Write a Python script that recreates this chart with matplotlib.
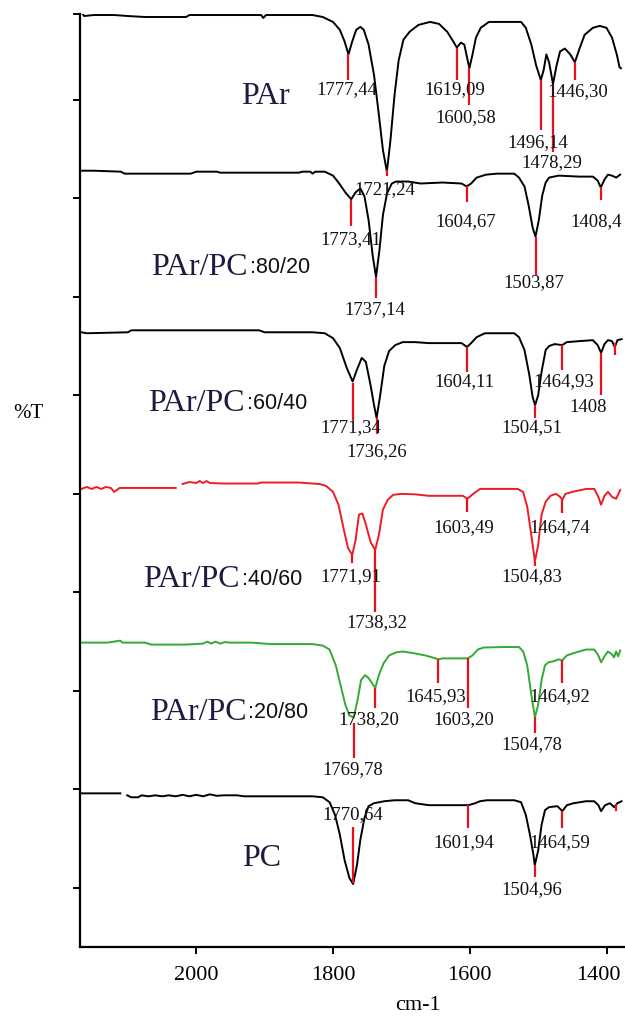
import numpy as np
import matplotlib
matplotlib.use("Agg")
import matplotlib.pyplot as plt
import matplotlib.transforms as mtransforms
from matplotlib import font_manager

# ---------------- data ----------------
# wavenumbers (cm-1) and offset %T values
nan = np.nan

par_wn = [2168, 2164, 2150, 2120, 2100, 2075, 2015, 2010, 1905, 1902, 1898, 1830, 1815, 1800, 1790, 1783,
          1777.4, 1772, 1766, 1760, 1755, 1748, 1740, 1733, 1727, 1721.2, 1716, 1710, 1704, 1697, 1688, 1675,
          1658, 1645, 1633, 1624, 1619, 1613, 1608, 1604, 1600.6, 1596, 1591, 1584, 1572, 1545, 1525, 1518,
          1510, 1503, 1496.1, 1492, 1488, 1484, 1478.3, 1473, 1468, 1461, 1453, 1446.3, 1440, 1432, 1420,
          1410, 1400, 1392, 1385, 1381, 1379]
par_t = [94.9, 94.5, 94.6, 94.6, 94.5, 94.4, 94.4, 94.6, 94.6, 94.3, 94.6, 94.6, 94.4, 93.9, 93.1, 91.9,
         90.6, 91.9, 93.1, 93.4, 93.1, 91.6, 88.5, 84.5, 80.9, 78.7, 81.9, 86.5, 90.0, 92.1, 92.9, 93.6,
         93.9, 93.7, 92.9, 91.9, 91.3, 91.8, 91.6, 90.3, 89.2, 90.6, 92.3, 93.3, 93.9, 93.9, 93.9, 93.3,
         91.6, 89.5, 88.0, 89.0, 90.6, 89.8, 87.6, 89.5, 90.9, 91.2, 90.6, 89.8, 91.1, 92.6, 93.3,
         93.5, 93.3, 92.3, 90.6, 89.3, 89.2]

b8020_wn = [2168, 2150, 2110, 2105, 2072, 2008, 2000, 1970, 1965, 1926, 1850, 1845, 1833, 1830, 1826, 1812,
            1800, 1792, 1782, 1773.4, 1767, 1760, 1754, 1748, 1742, 1737.1, 1732, 1727, 1721, 1714, 1708,
            1690, 1672, 1640, 1612, 1604.7, 1598, 1590, 1576, 1560, 1535, 1528, 1520, 1514, 1508, 1503.9,
            1499, 1494, 1489, 1484, 1470, 1440, 1420, 1413, 1408.4, 1403, 1398, 1392, 1386, 1380]
b8020_t = [78.8, 78.8, 78.7, 78.5, 78.5, 78.5, 78.7, 78.7, 78.6, 78.6, 78.6, 78.7, 78.7, 78.5, 78.7, 78.7,
           78.3, 77.6, 76.6, 75.9, 76.6, 77.0, 76.2, 73.8, 70.2, 68.0, 70.8, 74.3, 76.5, 77.5, 77.7,
           77.7, 77.5, 77.6, 77.5, 77.2, 77.5, 78.1, 78.4, 78.5, 78.5, 78.1, 77.2, 75.3, 73.0, 72.1,
           73.8, 76.3, 77.6, 78.1, 78.3, 78.2, 78.2, 77.8, 77.1, 77.9, 78.4, 78.3, 78.1, 78.4]

b6040_wn = [2168, 2160, 2100, 2095, 2066, 1908, 1900, 1830, 1812, 1800, 1790, 1780, 1771.3, 1765, 1758,
            1752, 1745, 1740, 1736.3, 1731, 1725, 1718, 1709, 1698, 1680, 1660, 1630, 1612, 1604.1, 1598,
            1590, 1578, 1555, 1535, 1528, 1520, 1513, 1508, 1504.5, 1500, 1495, 1489, 1484, 1476, 1464.9,
            1458, 1440, 1420, 1413, 1408, 1403, 1398, 1392, 1388, 1384, 1378]
b6040_t = [62.4, 62.3, 62.4, 62.6, 62.6, 62.6, 62.4, 62.4, 62.3, 61.8, 60.8, 58.8, 57.4, 58.6, 59.8,
           59.4, 57.0, 55.0, 53.7, 56.0, 59.0, 60.5, 61.1, 61.4, 61.4, 61.3, 61.3, 61.3, 60.9, 61.3,
           61.9, 62.3, 62.3, 62.3, 61.9, 60.6, 58.1, 55.8, 55.0, 56.0, 58.4, 60.6, 61.0, 61.2, 61.1,
           61.4, 61.5, 61.6, 61.1, 60.3, 61.2, 61.6, 61.5, 60.9, 61.6, 61.7]

b4060_wn = [2168, 2160, 2153, 2146, 2139, 2132, 2125, 2120, 2112, 2070, 2033, 2030, nan, 2020, 2010, 2000,
            1995, 1990, 1985, 1980, 1960, 1910, 1905, 1850, 1820, 1810, 1800, 1792, 1784, 1778, 1771.9,
            1767, 1762, 1757, 1752, 1745, 1738.3, 1733, 1727, 1720, 1712, 1700, 1680, 1660, 1625, 1610,
            1603.5, 1595, 1585, 1570, 1530, 1522, 1516, 1510, 1506, 1504.8, 1500, 1495, 1489, 1482, 1474,
            1468, 1464.7, 1460, 1450, 1430, 1418, 1412, 1408, 1403, 1398, 1392, 1386, 1380]
b4060_t = [46.5, 46.7, 46.5, 46.7, 46.5, 46.7, 46.6, 46.2, 46.6, 46.6, 46.6, 46.6, nan, 47.0, 47.2, 47.1,
           47.3, 47.1, 47.3, 47.1, 47.05, 47.05, 47.15, 47.15, 47.0, 46.8, 46.2, 44.9, 42.3, 40.5, 39.8,
           41.3, 43.9, 44.0, 42.9, 41.1, 40.3, 41.8, 44.4, 45.4, 45.9, 46.0, 45.95, 45.8, 45.8, 45.8,
           45.5, 46.0, 46.5, 46.5, 46.5, 46.2, 44.7, 41.8, 39.8, 39.1, 40.8, 43.9, 45.2, 45.8, 46.0,
           45.7, 45.4, 46.0, 46.2, 46.5, 46.5, 45.7, 44.9, 45.8, 46.2, 45.7, 45.5, 46.4]

b2080_wn = [2168, 2130, 2111, 2108, 2075, 2066, 2016, 1990, 1984, 1978, 1972, 1965, 1958, 1950, 1920, 1891,
            1830, 1815, 1805, 1796, 1789, 1782, 1776, 1769.8, 1764, 1759, 1753, 1748, 1743, 1738.2, 1733,
            1726, 1718, 1708, 1698, 1680, 1665, 1650, 1645.9, 1640, 1625, 1610, 1603.2, 1596, 1588, 1580,
            1550, 1528, 1522, 1516, 1510, 1506, 1504.8, 1500, 1495, 1490, 1485, 1478, 1470, 1464.9, 1458,
            1445, 1430, 1418, 1412, 1408, 1403, 1398, 1392, 1389, 1386, 1383, 1380]
b2080_t = [30.9, 30.9, 31.1, 30.9, 30.9, 30.7, 30.7, 30.8, 31.0, 30.8, 31.0, 30.8, 30.95, 30.9, 30.9, 30.75,
           30.75, 30.6, 30.2, 28.6, 26.6, 24.6, 23.5, 23.3, 25.1, 27.1, 27.6, 27.3, 26.8, 26.3, 27.6,
           28.8, 29.6, 29.9, 30.0, 29.8, 29.6, 29.3, 29.2, 29.3, 29.3, 29.3, 29.3, 29.6, 30.2, 30.4,
           30.45, 30.45, 30.0, 28.6, 25.6, 23.9, 23.3, 24.6, 27.1, 28.6, 28.9, 29.0, 29.2, 29.1, 29.6,
           29.9, 30.2, 30.2, 29.6, 28.9, 29.5, 30.0, 29.7, 29.4, 30.0, 29.5, 30.1]

pc_wn = [2168, 2111, nan, 2101, 2095, 2085, 2080, 2070, 2060, 2050, 2040, 2030, 2020, 2010, 2000, 1990,
         1980, 1970, 1960, 1940, 1930, 1900, 1880, 1830, 1815, 1805, 1797, 1790, 1783, 1776, 1770.6,
         1765, 1760, 1754, 1748, 1740, 1725, 1710, 1690, 1680, 1660, 1620, 1601.9, 1592, 1585, 1575,
         1535, 1525, 1518, 1512, 1507, 1505, 1500, 1495, 1490, 1484, 1472, 1464.6, 1458, 1448, 1430,
         1418, 1412, 1408, 1402, 1395, 1389, 1384, 1378]
pc_t = [15.6, 15.6, nan, 15.4, 15.2, 15.2, 15.4, 15.3, 15.4, 15.3, 15.4, 15.3, 15.45, 15.3, 15.45, 15.3,
        15.5, 15.35, 15.4, 15.4, 15.3, 15.3, 15.3, 15.3, 15.2, 14.7, 13.4, 11.4, 8.8, 7.0, 6.4,
        8.3, 10.9, 13.1, 14.3, 14.6, 14.8, 14.9, 14.9, 14.6, 14.4, 14.4, 14.4, 14.6, 14.8, 14.9,
        14.9, 14.7, 13.4, 11.4, 9.4, 8.3, 9.8, 12.4, 13.9, 14.2, 14.3, 13.8, 14.4, 14.6, 14.8,
        14.8, 14.4, 13.8, 14.4, 14.6, 14.2, 14.6, 14.8]

# sample names
names_main = ["PAr", "PAr/PC", "PAr/PC", "PAr/PC", "PAr/PC", "PC"]
names_ratio = ["", ":80/20", ":60/40", ":40/60", ":20/80", ""]
line_colors = ["black", "black", "black", "#ee1c24", "#33aa33", "black"]

# peak markers: position, marker line span (%T), label text, label position
par_pk = [1777.44, 1619.09, 1600.58, 1496.14, 1478.29, 1446.30, 1721.24]
par_lo = [88.0, 88.0, 85.5, 82.9, 80.7, 88.0, 78.3]
par_hi = [90.6, 91.3, 89.2, 88.0, 87.6, 89.8, 78.9]
par_lab = ["1777,44", "1619,09", "1600,58", "1496,14", "1478,29", "1446,30", "1721,24"]
par_lx = [1779.5, 1621.6, 1605.5, 1500, 1480, 1442, 1724]
par_ly = [87.0, 87.0, 84.2, 81.7, 79.6, 86.8, 76.9]

b8020_pk = [1604.67, 1408.4, 1773.41, 1737.14, 1503.87]
b8020_lo = [75.6, 75.8, 73.2, 65.9, 68.2]
b8020_hi = [77.2, 77.1, 75.8, 68.0, 72.1]
b8020_lab = ["1604,67", "1408,4", "1773,41", "1737,14", "1503,87"]
b8020_lx = [1605.5, 1415, 1773.7, 1738.6, 1506]
b8020_ly = [73.6, 73.6, 71.8, 64.7, 67.4]

b6040_pk = [1604.11, 1464.93, 1408, 1771.34, 1736.26, 1504.51, 1388]
b6040_lo = [58.4, 58.6, 56.0, 53.5, 52.1, 53.7, 60.1]
b6040_hi = [60.9, 61.1, 60.3, 57.3, 53.7, 55.0, 61.3]
b6040_lab = ["1604,11", "1464,93", "1408", "1771,34", "1736,26", "1504,51", ""]
b6040_lx = [1608.5, 1462, 1427, 1773.7, 1735.7, 1509, 1388]
b6040_ly = [57.4, 57.4, 54.8, 52.7, 50.3, 52.7, 60.0]

b4060_pk = [1603.49, 1464.74, 1771.91, 1738.32, 1504.83]
b4060_lo = [44.2, 44.1, 39.0, 34.0, 38.7]
b4060_hi = [45.6, 45.4, 39.8, 40.3, 39.1]
b4060_lab = ["1603,49", "1464,74", "1771,91", "1738,32", "1504,83"]
b4060_lx = [1608.5, 1468, 1773.7, 1735.7, 1509]
b4060_ly = [42.6, 42.6, 37.6, 32.9, 37.6]

b2080_pk = [1645.93, 1603.20, 1464.92, 1738.20, 1769.78, 1504.78]
b2080_lo = [26.8, 24.3, 26.8, 24.3, 19.2, 21.7]
b2080_hi = [29.2, 29.3, 29.1, 26.3, 22.7, 23.3]
b2080_lab = ["1645,93", "1603,20", "1464,92", "1738,20", "1769,78", "1504,78"]
b2080_lx = [1649.4, 1608.5, 1468, 1747, 1771, 1509]
b2080_ly = [25.4, 23.1, 25.4, 23.1, 18.0, 20.5]

pc_pk = [1770.64, 1601.94, 1464.59, 1504.96, 1386]
pc_lo = [6.5, 12.1, 12.1, 7.1, 13.8]
pc_hi = [12.2, 14.4, 13.8, 8.3, 14.5]
pc_lab = ["1770,64", "1601,94", "1464,59", "1504,96", ""]
pc_lx = [1771, 1608.5, 1468, 1509, 1386]
pc_ly = [13.4, 10.6, 10.6, 5.8, 13.0]

# name label anchor (left edge / centre) in data units
name_x = [1899, 2066, 2070, 2078, 2068, 1905]
name_y = [86.3, 69.0, 55.2, 37.3, 23.8, 9.0]
name_ha = ["center", "left", "left", "left", "left", "center"]

x_ticks = [2000, 1800, 1600, 1400]
y_ticks = [6, 16, 26, 36, 46, 56, 66, 76, 86, 94.7]

# ---------------- drawing ----------------
available = {f.name for f in font_manager.fontManager.ttflist}
if "Liberation Sans Narrow" in available:
    ratio_family, ratio_size = ["Liberation Sans Narrow", "DejaVu Sans"], 18.5
else:
    ratio_family, ratio_size = ["Liberation Sans", "DejaVu Sans"], 15.5

plt.rcParams["font.family"] = ["Liberation Serif", "DejaVu Serif"]

fig = plt.figure(figsize=(6.25, 10.18), dpi=100)
ax = fig.add_axes([0.128, 0.0697, 0.872, 0.9165])

spectra = [(par_wn, par_t), (b8020_wn, b8020_t), (b6040_wn, b6040_t),
           (b4060_wn, b4060_t), (b2080_wn, b2080_t), (pc_wn, pc_t)]
peaks = [(par_pk, par_lo, par_hi, par_lab, par_lx, par_ly),
         (b8020_pk, b8020_lo, b8020_hi, b8020_lab, b8020_lx, b8020_ly),
         (b6040_pk, b6040_lo, b6040_hi, b6040_lab, b6040_lx, b6040_ly),
         (b4060_pk, b4060_lo, b4060_hi, b4060_lab, b4060_lx, b4060_ly),
         (b2080_pk, b2080_lo, b2080_hi, b2080_lab, b2080_lx, b2080_ly),
         (pc_pk, pc_lo, pc_hi, pc_lab, pc_lx, pc_ly)]

red = "#e8101c"
for (w, t), col in zip(spectra, line_colors):
    ax.plot(w, t, color=col, lw=1.4, solid_joinstyle="round")

for pk, lo, hi, lab, lx, ly in peaks:
    ax.vlines(pk, lo, hi, color=red, lw=1.6, zorder=3)
    for s, x, y in zip(lab, lx, ly):
        if s:
            ax.text(x, y, s, ha="center", va="center", fontsize=13.5, color="#111111", zorder=4)

name_color = "#1c1c40"
for nm, rt, x, y, ha in zip(names_main, names_ratio, name_x, name_y, name_ha):
    t1 = ax.text(x, y, nm, ha=ha, va="center", fontsize=23, color=name_color)
    if rt:
        ax.annotate(rt, xy=(1, 0.5), xycoords=t1, xytext=(1.5, 0), textcoords="offset points",
                    ha="left", va="center", fontsize=ratio_size, family=ratio_family,
                    color="#111111")

ax.set_xlim(2170, 1373)
ax.set_ylim(0, 94.7)
ax.set_xticks(x_ticks)
ax.set_yticks(y_ticks)
ax.set_yticklabels([])
for s in ["top", "right"]:
    ax.spines[s].set_visible(False)
for s in ["left", "bottom"]:
    ax.spines[s].set_linewidth(1.6)
ax.tick_params(axis="x", direction="out", length=5, width=1.4, labelsize=16, pad=9)
ax.tick_params(axis="y", direction="out", length=5, width=1.4)

# keep the last tick label inside the picture edge
last = ax.get_xticklabels()[-1]
last.set_transform(last.get_transform() +
                   mtransforms.ScaledTranslation(-8 / 100, 0, fig.dpi_scale_trans))

fig.text(418 / 625, 1 - 1005 / 1018, "cm-1", ha="center", va="center", fontsize=16)
fig.text(28 / 625, 1 - 413 / 1018, "%T", ha="center", va="center", fontsize=15)

fig.savefig("out.png", dpi=100)
